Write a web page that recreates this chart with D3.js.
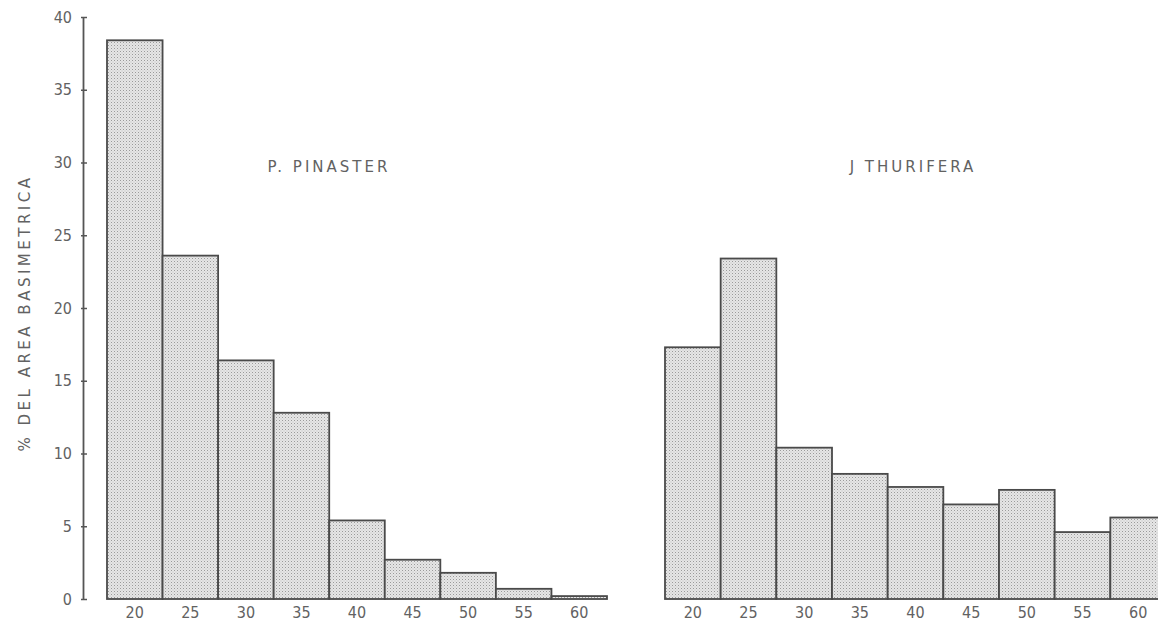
<!DOCTYPE html>
<html><head><meta charset="utf-8">
<script src="https://cdn.jsdelivr.net/npm/d3@7"></script>
<style>body{margin:0;background:#fff}svg text{font-family:"DejaVu Sans",sans-serif;fill:#626262}</style>
</head><body>
<svg id="c" width="1158" height="623"></svg>
<script>
const categories = ["20","25","30","35","40","45","50","55","60"];
const pinaster = [38.4, 23.6, 16.4, 12.8, 5.4, 2.7, 1.8, 0.7, 0.2];
const thurifera = [17.3, 23.4, 10.4, 8.6, 7.7, 6.5, 7.5, 4.6, 5.6];
const yTicks = [0,5,10,15,20,25,30,35,40];
const titles = ["P.  PINASTER", "J  THURIFERA"];
const yLabel = "%  DEL  AREA  BASIMETRICA";

const FONT = "'DejaVu Sans Condensed','DejaVu Sans',sans-serif";
const svg = d3.select("#c");
const defs = svg.append("defs");
const pat = defs.append("pattern").attr("id","dots").attr("patternUnits","userSpaceOnUse").attr("width",3).attr("height",3);
pat.append("rect").attr("width",3).attr("height",3).attr("fill","#e6e6e6");
pat.append("rect").attr("x",0).attr("y",0).attr("width",1).attr("height",1).attr("fill","#9a9a9a");
pat.append("rect").attr("x",1.5).attr("y",1.5).attr("width",1).attr("height",1).attr("fill","#c0c0c0");

const y = d3.scaleLinear().domain([0,40]).range([599,17]);
const fs = "16px";

// y axis
const ax = svg.append("g").attr("transform","translate(83,0)")
  .call(d3.axisLeft(y).tickValues(yTicks).tickSize(0).tickPadding(11));
ax.select(".domain").attr("stroke","#555").attr("stroke-width",1.8);
ax.selectAll("text").style("font-size",fs).style("font-family",FONT).attr("fill","#626262");
ax.selectAll(".tick").append("line").attr("x1",-2).attr("x2",4).attr("stroke","#555").attr("stroke-width",1.5);

svg.append("text").attr("transform","translate(30,313) rotate(-90)")
  .attr("text-anchor","middle").style("font-size","15px").style("letter-spacing","3.5px").text(yLabel);

function panel(values, r0, r1, title, tx) {
  const x = d3.scaleBand().domain(categories).range([r0,r1]).padding(0);
  const g = svg.append("g");
  g.selectAll("rect.bar").data(values).join("rect").attr("class","bar")
    .attr("x",(d,i)=>x(categories[i])).attr("width",x.bandwidth())
    .attr("y",d=>y(d)).attr("height",d=>y(0)-y(d))
    .attr("fill","url(#dots)").attr("stroke","#4a4a4a").attr("stroke-width",1.8);
  const xa = g.append("g").attr("transform","translate(0,600)")
    .call(d3.axisBottom(x).tickSize(0).tickPadding(7));
  xa.select(".domain").remove();
  xa.selectAll("text").style("font-size",fs).style("font-family",FONT).attr("fill","#626262");
  svg.append("text").attr("x",tx).attr("y",172).attr("text-anchor","middle")
    .style("font-size","15px").style("letter-spacing","3px").text(title);
}
panel(pinaster, 107, 607, titles[0], 329);
panel(thurifera, 665, 1166, titles[1], 913);
</script>
</body></html>
